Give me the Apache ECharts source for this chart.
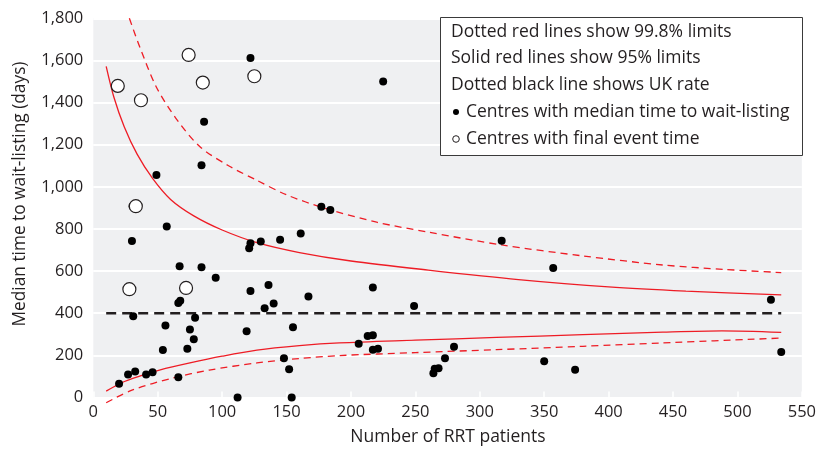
<!DOCTYPE html>
<html>
<head>
<meta charset="utf-8">
<script src="https://cdn.jsdelivr.net/npm/echarts@6/dist/echarts.min.js"></script>
<style>
html,body{margin:0;padding:0;background:#fff;}
#chart{width:819px;height:450px;}
</style>
</head>
<body>
<div id="chart"></div>
<script>
// ---- data ----
var xTicks = [0,50,100,150,200,250,300,350,400,450,500,550];
var yTicks = [0,200,400,600,800,1000,1200,1400,1600,1800];

// Centres with median time to wait-listing (filled)
var filledX = [122,225,86,84,49,30.5,177,184,57,30,122,121,130,145,161,317,357,67,84,95,217,122,136,167,66,67.5,140,133,249,526,31,79,56,75,155,119,78,54,73,148,152,206,213,217,217,221,280,273,264,265,268,350,374,534,27,32.5,41,46,66,20,112,154];
var filledY = [1612,1500,1309,1102,1056,908,905,890,812,743,732,708,741,749,779,744,615,623,618,569,522,506,534,479,449,459,446,424,434,464,386,378,342,323,333,314,277,226,232,186,134,255,292,295,227,232,241,186,115,137,139,172,132,216,109,124,109,120,96,65,0,0];

// Centres with final event time (open)
var openX = [74,19,85,125,37,33,28,72];
var openY = [1626,1479,1495,1525,1411,908,514,520];

// UK rate
var ukRate = 400;
var ukRange = [10,534];

// 95% limits (solid red)
var upper95X = [10,16,24,34,46,60,78,100,127,160,200,260,330,400,460,534];
var upper95Y = [1572,1425,1285,1155,1040,940,862,795,735,688,648,605,560,525,505,487];
var lower95X = [10,22,36,52,75,100,127,160,191,250,313,380,442,488,534];
var lower95Y = [30,70,101,131,164,196,225,246,259,272,285,298,310,316,309];

// 99.8% limits (dotted red)
var upper998X = [28,36,49,65,83,105,127,150,180,220,260,317,380,442,490,534];
var upper998Y = [1800,1665,1473,1318,1189,1100,1031,962,898,832,785,724,672,629,608,593];
var lower998X = [10,30,62,90,127,160,191,250,313,380,442,534];
var lower998Y = [-25,35,93,130,164,185,199,213,227,243,259,282];

var legendLines = [
  'Dotted red lines show 99.8% limits',
  'Solid red lines show 95% limits',
  'Dotted black line shows UK rate',
  'Centres with median time to wait-listing',
  'Centres with final event time'
];
var xName = 'Number of RRT patients';
var yName = 'Median time to wait-listing (days)';

// ---- build ----
function zip(a,b){ return a.map(function(v,i){ return [v,b[i]]; }); }
var FONT = 'Open Sans';
var TXT = '#231f20';
var RED = '#ee1c25';
var LFONT = '17.5px "Open Sans"';

var chart = echarts.init(document.getElementById('chart'), null, {renderer:'canvas'});
function curve(xs, ys, dashed){
  return {
    type:'line', smooth:0.3, symbol:'none', clip:false, z:2,
    data: zip(xs, ys),
    lineStyle:{color:RED, width:1.3, type: dashed ? [7,5] : 'solid'}
  };
}
var option = {
  animation:false,
  textStyle:{fontFamily:FONT},
  grid:{left:93.3, top:18.3, width:709.4, height:379.2, show:true, backgroundColor:'#eff0f2', borderWidth:0},
  xAxis:{
    type:'value', min:xTicks[0], max:xTicks[xTicks.length-1], interval:50,
    axisLine:{show:false},
    axisTick:{show:true, inside:true, length:6, lineStyle:{color:'#ffffff', width:1.5}},
    splitLine:{show:false},
    axisLabel:{color:TXT, fontSize:16.5, fontFamily:FONT, margin:6}
  },
  yAxis:{
    type:'value', min:yTicks[0], max:yTicks[yTicks.length-1], interval:200,
    axisLine:{show:false}, axisTick:{show:false},
    splitLine:{show:true, lineStyle:{color:'#ffffff', width:2}},
    axisLabel:{color:TXT, fontSize:16.5, fontFamily:FONT, margin:10,
      formatter:function(v){ return v.toLocaleString('en-US'); }}
  },
  series:[
    curve(upper998X, upper998Y, true),
    curve(lower998X, lower998Y, true),
    curve(upper95X, upper95Y, false),
    curve(lower95X, lower95Y, false),
    {type:'line', data:[[ukRange[0],ukRate],[ukRange[1],ukRate]], symbol:'none',
      lineStyle:{color:TXT, width:2.6, type:[10,6]}, z:3},
    {type:'scatter', data:zip(filledX,filledY), symbol:'circle', symbolSize:8, clip:false,
      itemStyle:{color:'#000000', opacity:1}, z:5},
    {type:'scatter', data:zip(openX,openY), symbol:'circle', symbolSize:13, clip:false,
      itemStyle:{color:'#ffffff', borderColor:'#231f20', borderWidth:1.2, opacity:1}, z:6}
  ],
  graphic:[
    {type:'rect', shape:{x:440.5, y:17.5, width:362, height:138}, style:{fill:'#ffffff', stroke:'#3a3a3a', lineWidth:1}, z:10},
    {type:'text', x:451, y:32, style:{text:legendLines[0], fill:TXT, font:LFONT, verticalAlign:'middle'}, z:11},
    {type:'text', x:451, y:58, style:{text:legendLines[1], fill:TXT, font:LFONT, verticalAlign:'middle'}, z:11},
    {type:'text', x:451, y:85, style:{text:legendLines[2], fill:TXT, font:LFONT, verticalAlign:'middle'}, z:11},
    {type:'circle', shape:{cx:456, cy:112, r:3}, style:{fill:'#000'}, z:11},
    {type:'text', x:466, y:112, style:{text:legendLines[3], fill:TXT, font:LFONT, verticalAlign:'middle'}, z:11},
    {type:'circle', shape:{cx:456, cy:139, r:3.3}, style:{fill:'#fff', stroke:'#231f20', lineWidth:1}, z:11},
    {type:'text', x:466, y:139, style:{text:legendLines[4], fill:TXT, font:LFONT, verticalAlign:'middle'}, z:11},
    {type:'text', x:448, y:437, style:{text:xName, fill:TXT, font:'17.5px "Open Sans"', align:'center', verticalAlign:'middle'}, z:11},
    {type:'text', x:20, y:194, rotation:Math.PI/2, style:{text:yName, fill:TXT, font:'17.3px "Open Sans"', align:'center', verticalAlign:'middle'}, z:11}
  ]
};
chart.setOption(option);
</script>
</body>
</html>
